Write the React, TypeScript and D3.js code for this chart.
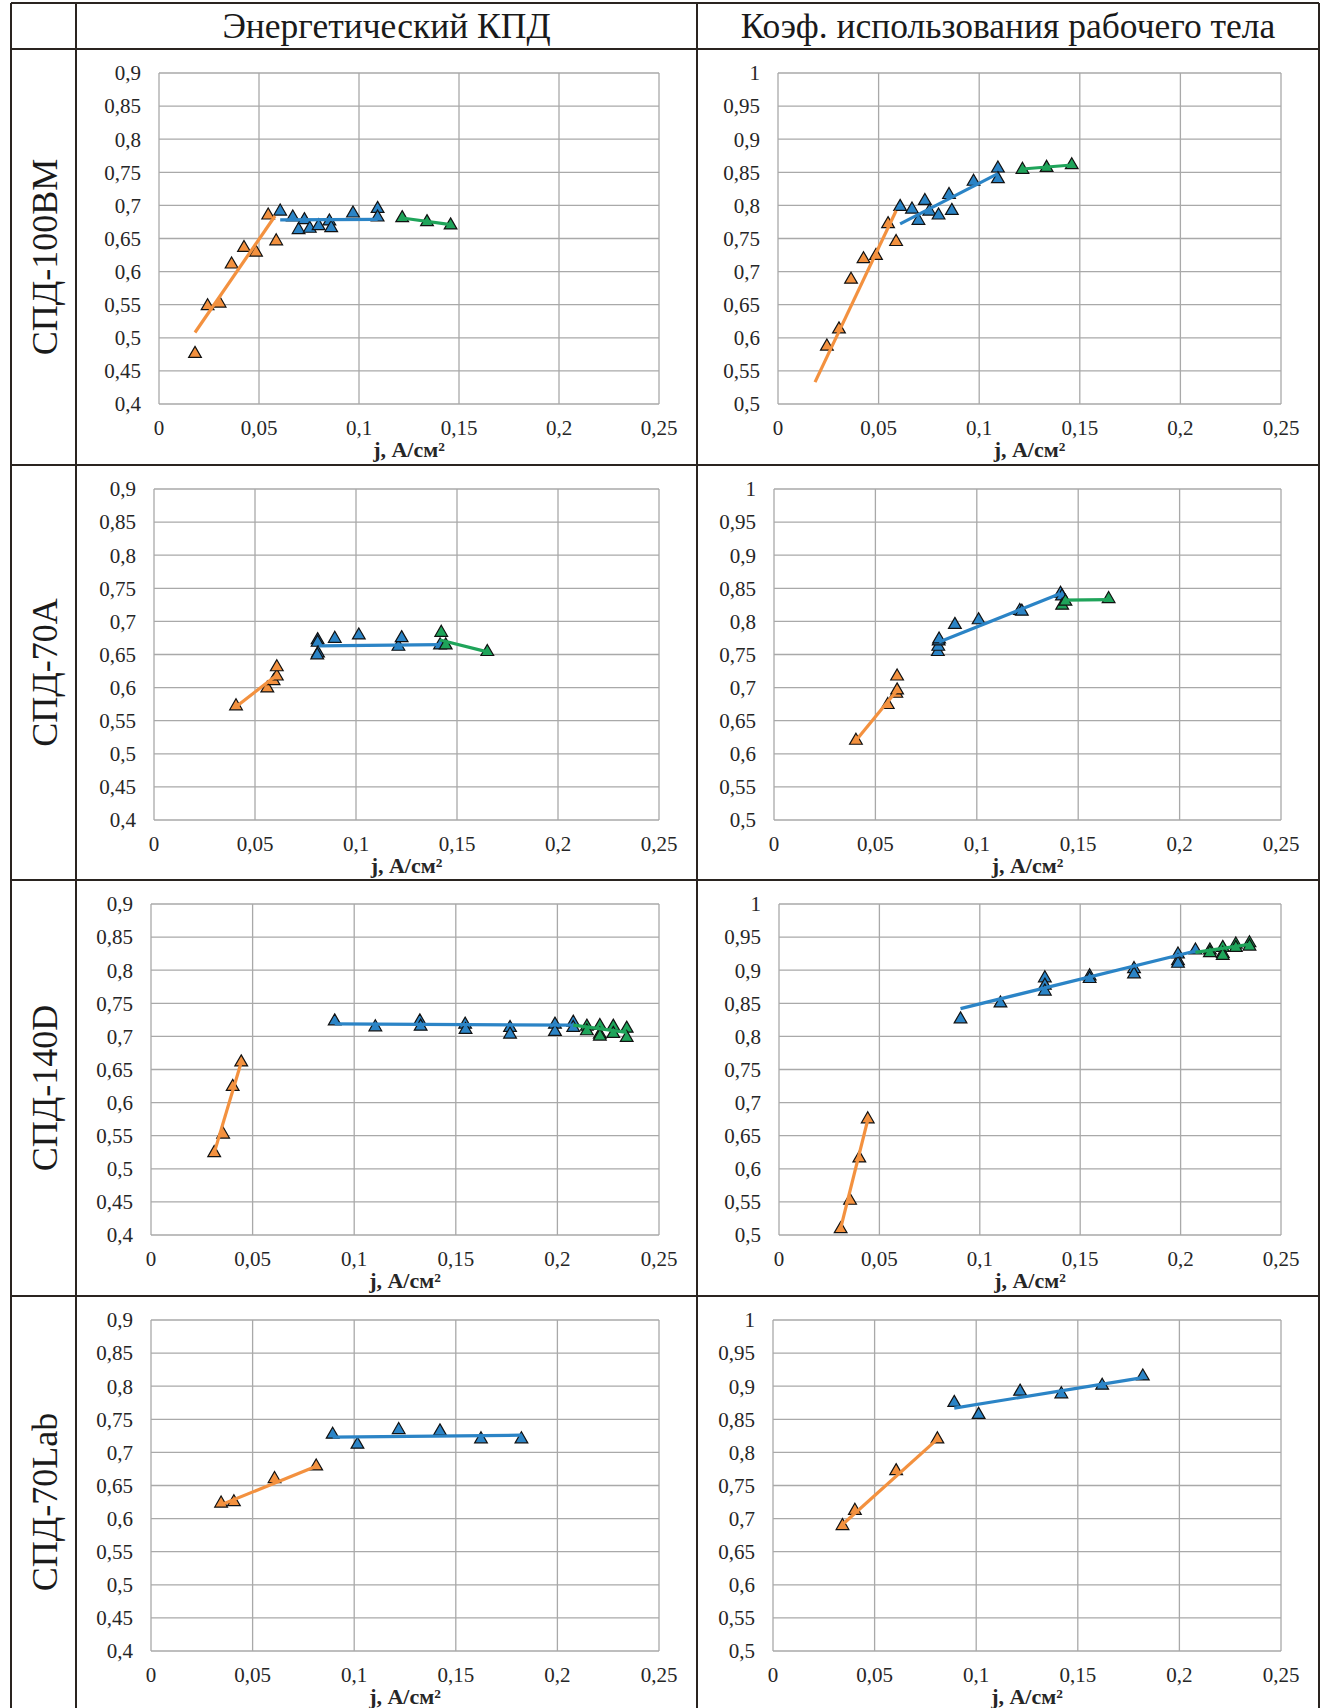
import React from 'react';
import * as d3 from 'd3';

// заголовки таблицы
const columns = ['Энергетический КПД', 'Коэф. использования рабочего тела'];
const engines = ['СПД-100ВМ', 'СПД-70А', 'СПД-140D', 'СПД-70Lab'];

// подписи осей
const xTicks = [0, 0.05, 0.1, 0.15, 0.2, 0.25];
const effTicks = [0.4, 0.45, 0.5, 0.55, 0.6, 0.65, 0.7, 0.75, 0.8, 0.85, 0.9];
const utilTicks = [0.5, 0.55, 0.6, 0.65, 0.7, 0.75, 0.8, 0.85, 0.9, 0.95, 1];
const xTitle = 'j, А/см²';

// СПД-100ВМ, КПД
const eff100Orange = [[0.018, 0.476], [0.0243, 0.548], [0.0303, 0.552], [0.0363, 0.611], [0.0425, 0.636], [0.0485, 0.629], [0.0546, 0.685], [0.0586, 0.646]];
const eff100OrangeFit = [[0.018, 0.508], [0.058, 0.684]];
const eff100Blue = [[0.0606, 0.691], [0.0669, 0.682], [0.0698, 0.663], [0.0727, 0.678], [0.0754, 0.665], [0.0798, 0.669], [0.0852, 0.676], [0.0861, 0.666], [0.097, 0.688], [0.1093, 0.695], [0.1093, 0.682]];
const eff100BlueFit = [[0.0606, 0.678], [0.1093, 0.679]];
const eff100Green = [[0.1216, 0.681], [0.134, 0.675], [0.1458, 0.67]];
const eff100GreenFit = [[0.1216, 0.681], [0.1458, 0.671]];

// СПД-100ВМ, коэф. использования
const util100Orange = [[0.0243, 0.587], [0.0303, 0.613], [0.0363, 0.688], [0.0425, 0.719], [0.0487, 0.724], [0.0547, 0.772], [0.0587, 0.745]];
const util100OrangeFit = [[0.0184, 0.533], [0.0587, 0.792]];
const util100Blue = [[0.0607, 0.798], [0.0666, 0.794], [0.0698, 0.777], [0.073, 0.807], [0.0752, 0.791], [0.0798, 0.785], [0.085, 0.816], [0.0864, 0.792], [0.0972, 0.836], [0.1093, 0.856], [0.1093, 0.84]];
const util100BlueFit = [[0.0607, 0.772], [0.1093, 0.848]];
const util100Green = [[0.1215, 0.854], [0.1335, 0.857], [0.146, 0.861]];
const util100GreenFit = [[0.1215, 0.855], [0.146, 0.861]];

// СПД-70А, КПД
const eff70Orange = [[0.0406, 0.572], [0.0561, 0.599], [0.0592, 0.61], [0.0608, 0.617], [0.0608, 0.631]];
const eff70OrangeFit = [[0.0406, 0.571], [0.0604, 0.618]];
const eff70Blue = [[0.081, 0.672], [0.081, 0.668], [0.0812, 0.652], [0.0808, 0.649], [0.0895, 0.674], [0.1014, 0.679], [0.121, 0.662], [0.1226, 0.675], [0.1416, 0.664]];
const eff70BlueFit = [[0.0816, 0.663], [0.1416, 0.665]];
const eff70Green = [[0.1422, 0.683], [0.1444, 0.664], [0.165, 0.654]];
const eff70GreenFit = [[0.1416, 0.672], [0.165, 0.654]];

// СПД-70А, коэф. использования
const util70Orange = [[0.0404, 0.62], [0.0561, 0.674], [0.0603, 0.691], [0.0607, 0.696], [0.0607, 0.717]];
const util70OrangeFit = [[0.0404, 0.62], [0.0607, 0.696]];
const util70Blue = [[0.0808, 0.754], [0.081, 0.762], [0.0812, 0.77], [0.0814, 0.773], [0.0892, 0.795], [0.1009, 0.802], [0.1212, 0.816], [0.1222, 0.815], [0.1413, 0.842], [0.142, 0.838]];
const util70BlueFit = [[0.0814, 0.769], [0.1413, 0.842]];
const util70Green = [[0.1421, 0.824], [0.1437, 0.83], [0.165, 0.834]];
const util70GreenFit = [[0.1427, 0.832], [0.165, 0.833]];

// СПД-140D, КПД
const eff140Orange = [[0.0311, 0.524], [0.0355, 0.552], [0.0402, 0.624], [0.0444, 0.661]];
const eff140OrangeFit = [[0.0311, 0.524], [0.0444, 0.661]];
const eff140Blue = [[0.0904, 0.723], [0.1104, 0.714], [0.1323, 0.723], [0.1327, 0.715], [0.1546, 0.718], [0.1548, 0.71], [0.1767, 0.713], [0.1767, 0.703], [0.1988, 0.718], [0.1988, 0.707], [0.2078, 0.721], [0.2078, 0.713]];
const eff140BlueFit = [[0.0904, 0.719], [0.2078, 0.717]];
const eff140Green = [[0.2145, 0.715], [0.2145, 0.708], [0.2209, 0.716], [0.2209, 0.703], [0.2209, 0.7], [0.2275, 0.715], [0.2275, 0.704], [0.2341, 0.712], [0.2341, 0.698]];
const eff140GreenFit = [[0.2078, 0.717], [0.2341, 0.706]];

// СПД-140D, коэф. использования
const util140Orange = [[0.0307, 0.509], [0.0354, 0.552], [0.04, 0.616], [0.0442, 0.675]];
const util140OrangeFit = [[0.0307, 0.51], [0.0442, 0.674]];
const util140Blue = [[0.0904, 0.826], [0.1103, 0.85], [0.1324, 0.888], [0.1324, 0.877], [0.1324, 0.868], [0.1547, 0.891], [0.1547, 0.887], [0.1768, 0.902], [0.1768, 0.894], [0.1987, 0.924], [0.1987, 0.914], [0.1987, 0.91], [0.2074, 0.93]];
const util140BlueFit = [[0.0904, 0.842], [0.2074, 0.929]];
const util140Green = [[0.2146, 0.93], [0.2146, 0.926], [0.221, 0.934], [0.221, 0.925], [0.221, 0.922], [0.2275, 0.939], [0.2275, 0.934], [0.2343, 0.941], [0.2343, 0.936]];
const util140GreenFit = [[0.2074, 0.927], [0.2343, 0.939]];

// СПД-70Lab, КПД
const effLabOrange = [[0.0345, 0.623], [0.0408, 0.625], [0.0608, 0.66], [0.0813, 0.679]];
const effLabOrangeFit = [[0.0345, 0.621], [0.0813, 0.679]];
const effLabBlue = [[0.0894, 0.727], [0.1016, 0.712], [0.1219, 0.734], [0.1422, 0.732], [0.1624, 0.72], [0.1823, 0.72]];
const effLabBlueFit = [[0.0894, 0.723], [0.1823, 0.726]];

// СПД-70Lab, коэф. использования
const utilLabOrange = [[0.0342, 0.689], [0.0403, 0.712], [0.0606, 0.772], [0.0809, 0.82]];
const utilLabOrangeFit = [[0.0342, 0.691], [0.0809, 0.82]];
const utilLabBlue = [[0.0892, 0.875], [0.1012, 0.857], [0.1216, 0.892], [0.1419, 0.888], [0.162, 0.901], [0.182, 0.915]];
const utilLabBlueFit = [[0.0892, 0.867], [0.182, 0.913]];

const ORANGE = '#F3913F';
const BLUE = '#2B84C6';
const GREEN = '#1FA45A';
const FONT = "'Liberation Serif', 'Times New Roman', serif";

const panels = [
  [
    { ticks: effTicks, series: [[eff100Orange, eff100OrangeFit, ORANGE], [eff100Blue, eff100BlueFit, BLUE], [eff100Green, eff100GreenFit, GREEN]] },
    { ticks: utilTicks, series: [[util100Orange, util100OrangeFit, ORANGE], [util100Blue, util100BlueFit, BLUE], [util100Green, util100GreenFit, GREEN]] },
  ],
  [
    { ticks: effTicks, series: [[eff70Orange, eff70OrangeFit, ORANGE], [eff70Blue, eff70BlueFit, BLUE], [eff70Green, eff70GreenFit, GREEN]] },
    { ticks: utilTicks, series: [[util70Orange, util70OrangeFit, ORANGE], [util70Blue, util70BlueFit, BLUE], [util70Green, util70GreenFit, GREEN]] },
  ],
  [
    { ticks: effTicks, series: [[eff140Orange, eff140OrangeFit, ORANGE], [eff140Blue, eff140BlueFit, BLUE], [eff140Green, eff140GreenFit, GREEN]] },
    { ticks: utilTicks, series: [[util140Orange, util140OrangeFit, ORANGE], [util140Blue, util140BlueFit, BLUE], [util140Green, util140GreenFit, GREEN]] },
  ],
  [
    { ticks: effTicks, series: [[effLabOrange, effLabOrangeFit, ORANGE], [effLabBlue, effLabBlueFit, BLUE]] },
    { ticks: utilTicks, series: [[utilLabOrange, utilLabOrangeFit, ORANGE], [utilLabBlue, utilLabBlueFit, BLUE]] },
  ],
];

// геометрия таблицы
const W = 1321;
const H = 1708;
const tableLeft = 11;
const labelCol = 76;
const midCol = 697;
const tableRight = 1319;
const headerTop = 3;
const rowLines = [49, 465, 880, 1296];
const plotTops = [73, 489, 904, 1320];
const plotH = 331;
const plotLefts = [[159, 778], [154, 774], [151, 779], [151, 773]];
const plotRights = [659, 1281];

const fmt = (v: number) => String(+v.toFixed(2)).replace('.', ',');
const triangle = d3.symbol().type(d3.symbolTriangle).size(70)();
const line = d3.line();

function Panel({ cfg, left, right, top }: any) {
  const x = d3.scaleLinear().domain([0, 0.25]).range([left, right]);
  const y = d3.scaleLinear().domain([cfg.ticks[0], cfg.ticks[cfg.ticks.length - 1]]).range([top + plotH, top]);
  const bottom = top + plotH;
  return (
    <g>
      {cfg.ticks.map((t: number) => (
        <line key={'h' + t} x1={left} x2={right} y1={y(t)} y2={y(t)} stroke="#a9a9a9" strokeWidth={1.3} />
      ))}
      {xTicks.map((t) => (
        <line key={'v' + t} x1={x(t)} x2={x(t)} y1={top} y2={bottom} stroke="#a9a9a9" strokeWidth={1.3} />
      ))}
      {cfg.ticks.map((t: number) => (
        <text key={'yl' + t} x={left - 18} y={y(t)} dy="0.35em" textAnchor="end" fontSize={21} fill="#262626">
          {fmt(t)}
        </text>
      ))}
      {xTicks.map((t) => (
        <text key={'xl' + t} x={x(t)} y={bottom + 31} textAnchor="middle" fontSize={21} fill="#262626">
          {fmt(t)}
        </text>
      ))}
      <text x={(left + right) / 2} y={bottom + 53} textAnchor="middle" fontSize={22} fontWeight="bold" fill="#262626">
        {xTitle}
      </text>
      {cfg.series.map(([pts, fit, color]: any, i: number) => (
        <g key={'s' + i}>
          {pts.map((p: number[], k: number) => (
            <path key={k} d={triangle as string} transform={`translate(${x(p[0])},${y(p[1])})`} fill={color} stroke="#111" strokeWidth={1.2} />
          ))}
        </g>
      ))}
      {cfg.series.map(([pts, fit, color]: any, i: number) => (
        <path key={'f' + i} d={line(fit.map((p: number[]) => [x(p[0]), y(p[1])])) as string} stroke={color} strokeWidth={3.2} fill="none" />
      ))}
    </g>
  );
}

export default function App() {
  return (
    <svg width={W} height={H} style={{ position: 'absolute', left: 0, top: 0, background: '#fff' }} fontFamily={FONT}>
      <rect width={W} height={H} fill="#fff" />
      {/* рамка таблицы */}
      <g stroke="#2a2420" strokeWidth={2}>
        <line x1={tableLeft} x2={tableRight} y1={headerTop} y2={headerTop} />
        {rowLines.map((r) => (
          <line key={r} x1={tableLeft} x2={tableRight} y1={r} y2={r} />
        ))}
        {[tableLeft, labelCol, midCol, tableRight].map((c) => (
          <line key={c} x1={c} x2={c} y1={headerTop} y2={H} />
        ))}
      </g>
      {columns.map((c, i) => {
        const cx = i === 0 ? (labelCol + midCol) / 2 : (midCol + tableRight) / 2;
        return (
          <text key={c} x={cx} y={38} textAnchor="middle" fontSize={35.5} fill="#1a1a1a">
            {c}
          </text>
        );
      })}
      {engines.map((e, r) => {
        const cy = (rowLines[r] + (r < 3 ? rowLines[r + 1] : H)) / 2;
        return (
          <text key={e} transform={`translate(57,${cy}) rotate(-90)`} textAnchor="middle" fontSize={36} fill="#1a1a1a">
            {e}
          </text>
        );
      })}
      {panels.map((row, r) =>
        row.map((cfg, c) => (
          <Panel key={r + '-' + c} cfg={cfg} left={plotLefts[r][c]} right={plotRights[c]} top={plotTops[r]} />
        ))
      )}
    </svg>
  );
}
